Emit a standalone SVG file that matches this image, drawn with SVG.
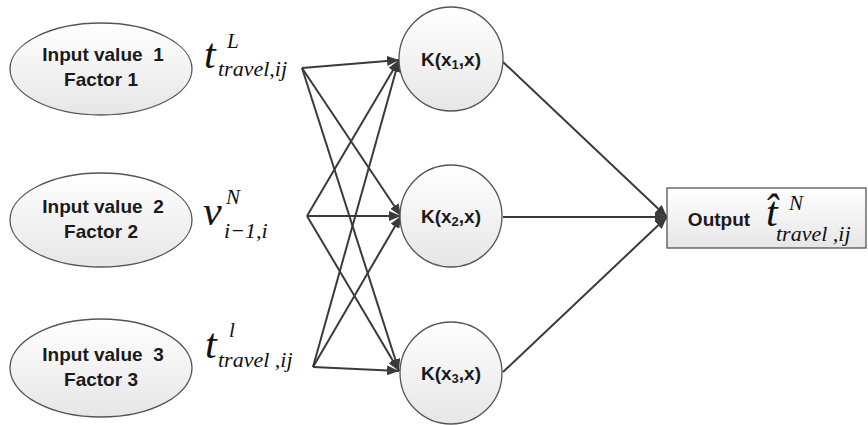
<svg xmlns="http://www.w3.org/2000/svg" width="868" height="425" viewBox="0 0 868 425">
  <defs>
    <linearGradient id="g" x1="0" y1="0" x2="0" y2="1">
      <stop offset="0" stop-color="#ffffff"/>
      <stop offset="1" stop-color="#e6e6e6"/>
    </linearGradient>
    <marker id="arr" viewBox="0 0 12 10" refX="12" refY="5" markerWidth="12" markerHeight="10" markerUnits="userSpaceOnUse" orient="auto">
      <path d="M0,0 L12,5 L0,10 Z" fill="#3a3a3a"/>
    </marker>
  </defs>
  <style>
    .sh { fill: url(#g); stroke: #555; stroke-width: 1.3; }
    .lbl { font-family: "Liberation Sans", Arial, sans-serif; font-weight: bold; font-size: 19px; fill: #1a1a1a; text-anchor: middle; }
    .m { font-family: "Liberation Serif", "Times New Roman", serif; font-style: italic; fill: #111; }
    .big { font-size: 42px; }
    .sub { font-size: 22px; }
    .sup { font-size: 21px; }
    .c { stroke: #3a3a3a; stroke-width: 2; fill: none; }
  </style>
  <rect width="868" height="425" fill="#ffffff"/>

  <g id="connectors">
    <line class="c" x1="302" y1="68" x2="399" y2="60" marker-end="url(#arr)"/>
    <line class="c" x1="302" y1="68" x2="401" y2="216" marker-end="url(#arr)"/>
    <line class="c" x1="302" y1="68" x2="399" y2="371" marker-end="url(#arr)"/>
    <line class="c" x1="307" y1="216" x2="399" y2="60" marker-end="url(#arr)"/>
    <line class="c" x1="307" y1="216" x2="401" y2="216" marker-end="url(#arr)"/>
    <line class="c" x1="307" y1="216" x2="399" y2="371" marker-end="url(#arr)"/>
    <line class="c" x1="313" y1="367" x2="399" y2="60" marker-end="url(#arr)"/>
    <line class="c" x1="313" y1="367" x2="401" y2="216" marker-end="url(#arr)"/>
    <line class="c" x1="313" y1="367" x2="399" y2="371" marker-end="url(#arr)"/>
    <line class="c" x1="503" y1="62" x2="667" y2="217" marker-end="url(#arr)"/>
    <line class="c" x1="503" y1="217" x2="667" y2="217" marker-end="url(#arr)"/>
    <line class="c" x1="503" y1="372" x2="667" y2="217" marker-end="url(#arr)"/>
  </g>

  <g id="input1">
    <ellipse class="sh" cx="101" cy="69" rx="91" ry="46"/>
    <text class="lbl" x="103" y="61">Input value&#160; 1</text>
    <text class="lbl" x="101" y="86">Factor 1</text>
  </g>
  <g id="input2">
    <ellipse class="sh" cx="101" cy="220" rx="91" ry="47"/>
    <text class="lbl" x="103" y="213">Input value&#160; 2</text>
    <text class="lbl" x="101" y="238">Factor 2</text>
  </g>
  <g id="input3">
    <ellipse class="sh" cx="101" cy="368" rx="91" ry="49"/>
    <text class="lbl" x="103" y="361">Input value&#160; 3</text>
    <text class="lbl" x="101" y="386">Factor 3</text>
  </g>

  <g id="label1">
    <text class="m big" x="204" y="68">t</text>
    <text class="m sup" x="227" y="48">L</text>
    <text class="m sub" x="218" y="76">travel,ij</text>
  </g>
  <g id="label2">
    <text class="m big" x="203" y="225">v</text>
    <text class="m sup" x="226" y="204">N</text>
    <text class="m sub" x="224" y="238">i−1,i</text>
  </g>
  <g id="label3">
    <text class="m big" x="205" y="358">t</text>
    <text class="m sup" x="229" y="337">l</text>
    <text class="m sub" x="218" y="367">travel ,ij</text>
  </g>

  <g id="k1">
    <circle class="sh" cx="451" cy="59" r="52"/>
    <text class="lbl" x="451" y="66">K(x<tspan font-size="13" dy="3">1</tspan><tspan dy="-3">,x)</tspan></text>
  </g>
  <g id="k2">
    <circle class="sh" cx="451" cy="216" r="51"/>
    <text class="lbl" x="451" y="223">K(x<tspan font-size="13" dy="3">2</tspan><tspan dy="-3">,x)</tspan></text>
  </g>
  <g id="k3">
    <circle class="sh" cx="451" cy="373" r="51"/>
    <text class="lbl" x="451" y="380">K(x<tspan font-size="13" dy="3">3</tspan><tspan dy="-3">,x)</tspan></text>
  </g>

  <g id="output">
    <rect class="sh" x="667" y="188" width="199" height="60"/>
    <text class="lbl" x="719" y="226">Output</text>
    <text class="m big" x="766" y="226">t&#770;</text>
    <text class="m sup" x="789" y="210">N</text>
    <text class="m sub" x="776" y="241">travel ,ij</text>
  </g>
</svg>
